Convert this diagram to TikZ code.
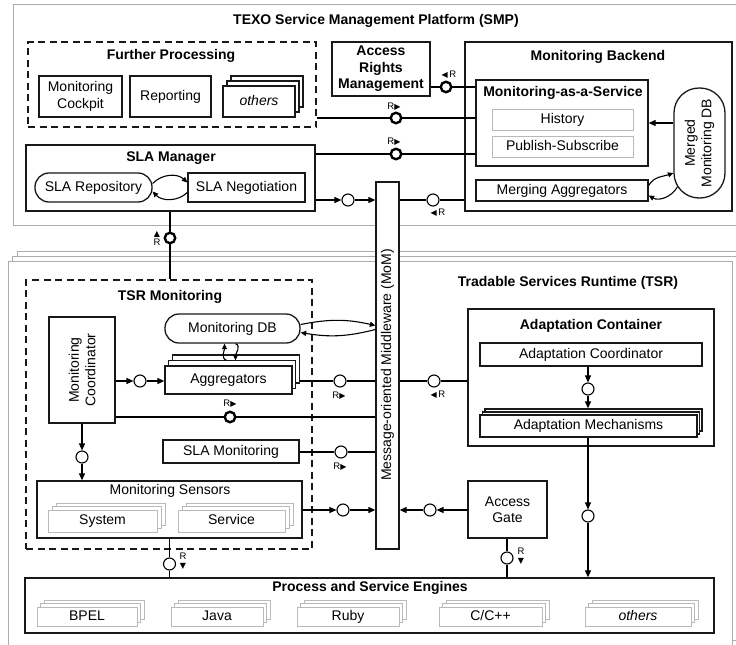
\documentclass[tikz,border=0pt]{standalone}
\usepackage{fontspec}
\setmainfont{Liberation Sans}
\newfontfamily\symf{DejaVu Sans}
\usetikzlibrary{arrows.meta,shadows}
\newcommand\fs{\fontsize{14}{16.5}\selectfont}
\newcommand\rs{\fontsize{9.5}{9}\selectfont}
\newcommand\triR{{\symf\fontsize{8}{8}\selectfont ▶}}
\newcommand\triL{{\symf\fontsize{8}{8}\selectfont ◀}}
\newcommand\triU{{\symf\fontsize{8}{8}\selectfont ▲}}
\newcommand\triD{{\symf\fontsize{8}{8}\selectfont ▼}}
\begin{document}
\begin{tikzpicture}[x=1pt,y=-1pt,
  box/.style={draw=black!90, line width=1.3pt, fill=white, inner sep=0pt, align=center, font=\fs},
  gbox/.style={draw=gray!55, line width=0.9pt, fill=white, inner sep=0pt, align=center, font=\fs},
  tx/.style={text height=10pt, text depth=3pt},
  ttl/.style={font=\fs\bfseries, inner sep=0pt, align=center},
  frame/.style={draw=gray!65, line width=0.9pt},
  dbox/.style={draw=black!90, line width=1.2pt, dash pattern=on 7pt off 4.5pt, inner sep=0pt},
  arr/.style={line width=1.2pt, -{Triangle[length=7pt,width=6pt]}},
  arrs/.style={line width=1.1pt, -{Triangle[length=5.5pt,width=5pt]}},
  ln/.style={line width=1.2pt},
  sock/.style={circle, draw, line width=1.1pt, fill=white, minimum size=12pt, inner sep=0pt},
  bsock/.style={circle, draw, line width=2.4pt, fill=white, minimum size=10.5pt, inner sep=0pt},
  rl/.style={font=\rs, inner sep=0pt, align=center},
  stk/.style={copy shadow={shadow xshift=8pt,shadow yshift=10pt}, copy shadow={shadow xshift=4pt,shadow yshift=5pt}},
  stks/.style={copy shadow={shadow xshift=7pt,shadow yshift=7pt}, copy shadow={shadow xshift=3.5pt,shadow yshift=3.5pt}, tx},
]
\useasboundingbox (0,0) rectangle (736,645);
\clip (0,0) rectangle (736,645);

% ---------- frames ----------
\draw[frame] (13,4) rectangle (745,225);
\draw[frame, fill=white] (17,251) rectangle (745,636);
\draw[frame, fill=white] (12.5,256) rectangle (740,640.5);
\draw[frame, fill=white] (8,261) rectangle (732,660);

\node[ttl] (smpt) at (376,21) {TEXO Service Management Platform (SMP)};
\node[ttl] (tsrt) at (568,283) {Tradable Services Runtime (TSR)};

% ---------- SMP ----------
\node[dbox, minimum width=288pt, minimum height=85pt] (fp) at (172,84.5) {};
\node[ttl] (fpt) at (171,56) {Further Processing};
\node[box, minimum width=83pt, minimum height=41pt] (cockpit) at (80.5,96.5) {Monitoring\\Cockpit};
\node[box, tx, minimum width=81pt, minimum height=41pt] (report) at (170.5,96.5) {Reporting};
\node[box, stk, tx, minimum width=72pt, minimum height=31pt] (oth1) at (259,101.5) {\itshape others};

\node[box, font=\fs\bfseries, minimum width=98pt, minimum height=54pt] (arm) at (381,69) {Access\\Rights\\Management};

\node[box, minimum width=267pt, minimum height=169pt] (mb) at (598.5,126.5) {};
\node[ttl] (mbt) at (598,57) {Monitoring Backend};
\node[box, minimum width=172pt, minimum height=86pt] (maas) at (562,123) {};
\node[ttl] (maast) at (563,93) {Monitoring-as-a-Service};
\node[gbox, tx, minimum width=141pt, minimum height=21pt] (hist) at (562.5,119.5) {History};
\node[gbox, tx, minimum width=141pt, minimum height=21pt] (pubsub) at (562.5,146.5) {Publish-Subscribe};
\node[box, rounded corners=25pt, minimum width=51pt, minimum height=110pt] (mdb) at (699.5,143) {};
\node[rotate=90, font=\fs, align=center, inner sep=0pt] (mdbt) at (mdb) {Merged\\Monitoring DB};
\node[box, tx, minimum width=172pt, minimum height=21pt] (ma) at (562,190.5) {Merging Aggregators};

\node[box, minimum width=289pt, minimum height=66pt] (slam) at (170.5,178) {};
\node[ttl] (slamt) at (171,158) {SLA Manager};
\node[box, tx, rounded corners=14pt, minimum width=117pt, minimum height=29pt] (slarep) at (93.5,187.5) {SLA Repository};
\node[box, tx, minimum width=117pt, minimum height=29pt] (slaneg) at (246.5,187.5) {SLA Negotiation};

% ---------- MoM ----------
\node[box, minimum width=23pt, minimum height=367pt] (mom) at (387.5,365.5) {};
\node[rotate=90, font=\fs, inner sep=0pt] (momt) at (387.5,365) {Message-oriented Middleware (MoM)};

% ---------- TSR Monitoring ----------
\node[dbox, minimum width=286pt, minimum height=269pt] (tsrm) at (169,414.5) {};
\node[ttl] (tsrmt) at (170,297) {TSR Monitoring};
\node[box, minimum width=66pt, minimum height=106pt] (mc) at (82,370) {};
\node[rotate=90, font=\fs, align=center, inner sep=0pt] (mct) at (mc) {Monitoring\\Coordinator};
\node[box, tx, rounded corners=14pt, minimum width=135pt, minimum height=29pt] (mondb) at (232.5,328.5) {Monitoring DB};
\node[box, tx, minimum width=127pt, minimum height=28pt, copy shadow={shadow xshift=7.5pt,shadow yshift=11pt}, copy shadow={shadow xshift=3.7pt,shadow yshift=5.5pt}] (agg) at (228.5,380) {Aggregators};
\node[box, tx, minimum width=136pt, minimum height=23pt] (slamon) at (231,451.5) {SLA Monitoring};
\node[box, minimum width=265pt, minimum height=57pt] (ms) at (169.5,509.5) {};
\node[font=\fs, inner sep=0pt] (mst) at (170,491) {Monitoring Sensors};
\node[gbox, tx, minimum width=109pt, minimum height=22pt, copy shadow={shadow xshift=8pt,shadow yshift=7pt}, copy shadow={shadow xshift=4pt,shadow yshift=3.5pt}] (sys) at (102.5,521) {System};
\node[gbox, tx, minimum width=107pt, minimum height=22pt, copy shadow={shadow xshift=8pt,shadow yshift=7pt}, copy shadow={shadow xshift=4pt,shadow yshift=3.5pt}] (svc) at (231.5,521) {Service};

% ---------- Adaptation ----------
\node[box, minimum width=246pt, minimum height=137pt] (ac) at (591,377.5) {};
\node[ttl] (act) at (591,326) {Adaptation Container};
\node[box, tx, minimum width=222pt, minimum height=23pt] (acoord) at (591,354.5) {Adaptation Coordinator};
\node[box, tx, minimum width=217pt, minimum height=22pt, copy shadow={shadow xshift=5pt,shadow yshift=6pt}, copy shadow={shadow xshift=2.5pt,shadow yshift=3pt}] (amech) at (588.5,426) {Adaptation Mechanisms};
\node[box, minimum width=79pt, minimum height=57pt] (ag) at (507.5,509.5) {Access\\Gate};

% ---------- Engines ----------
\node[box, minimum width=689pt, minimum height=55pt] (pse) at (369.5,605.5) {};
\node[ttl] (pset) at (370,588) {Process and Service Engines};
\node[gbox, stks, minimum width=100pt, minimum height=19pt] (bpel) at (87,616.5) {BPEL};
\node[gbox, stks, minimum width=92pt, minimum height=19pt] (java) at (217,616.5) {Java};
\node[gbox, stks, minimum width=102pt, minimum height=19pt] (ruby) at (348,616.5) {Ruby};
\node[gbox, stks, minimum width=103pt, minimum height=19pt] (cpp) at (490.5,616.5) {C/C++};
\node[gbox, stks, minimum width=106pt, minimum height=19pt] (oth2) at (638,616.5) {\itshape others};

% ---------- sockets ----------
\node[bsock] (cR1) at (396,118) {};
\node[bsock] (cR2) at (446,87) {};
\node[bsock] (cR3) at (396,154) {};
\node[sock] (c4) at (348,200) {};
\node[sock] (c5) at (433,200) {};
\node[bsock] (cR6) at (170,238) {};
\node[sock] (c7) at (140,381) {};
\node[sock] (c8) at (340,381) {};
\node[sock] (c9) at (434,381) {};
\node[bsock] (cR10) at (230,417) {};
\node[sock] (c11) at (82,457) {};
\node[sock] (c12) at (341,452) {};
\node[sock] (c13) at (343,510) {};
\node[sock] (c14) at (430,510) {};
\node[sock] (c15) at (588,389) {};
\node[sock] (c16) at (588,516) {};
\node[sock] (c17) at (169.5,564) {};
\node[sock] (c18) at (507,558) {};

% ---------- labels ----------
\node[rl] (l1) at (394,107) {R\triR};
\node[rl] (l2) at (449,75) {\triL\,R};
\node[rl] (l3) at (394,142) {R\triR};
\node[rl] (l5) at (438,213) {\triL\,R};
\node[rl] (l6) at (157,238) {\triU\\R};
\node[rl] (l8) at (339,396) {R\triR};
\node[rl] (l9) at (438,395) {\triL\,R};
\node[rl] (l10) at (230,404) {R\triR};
\node[rl] (l12) at (340,467) {R\triR};
\node[rl] (l17) at (183,561) {R\\\triD};
\node[rl] (l18) at (521,556) {R\\\triD};

% ---------- connectors ----------
\draw[ln] (fp.east |- cR1) -- (cR1) -- (maas.west |- cR1);
\draw[ln] (arm.east |- cR2) -- (cR2) -- (maas.west |- cR2);
\draw[ln] (slam.east |- cR3) -- (cR3) -- (maas.west |- cR3);
\draw[arr] (slam.east |- c4) -- (c4);
\draw[arr] (c4) -- (mom.west |- c4);
\draw[ln] (mom.east |- c5) -- (c5) -- (mb.west |- c5);
\coordinate (m1) at ([yshift=20pt]mdb.west);
\draw[arr] (m1) -- (m1 -| maas.east);
\draw[arrs] ([yshift=5pt]ma.east) to[out=60,in=200] ([yshift=-30pt]mdb.west);
\draw[arrs] ([xshift=4pt,yshift=-44pt]mdb.west) to[out=240,in=-30] ([yshift=-5pt]ma.east);
\draw[arrs] ([yshift=4pt]slarep.east) to[bend left=45] ([yshift=5pt]slaneg.west);
\draw[arrs] ([yshift=-5pt]slaneg.west) to[bend left=45] ([yshift=-4pt]slarep.east);
\draw[ln] (slam.south -| cR6) -- (cR6) -- (tsrm.north -| cR6);

\draw[arr] (mc.east |- c7) -- (c7);
\draw[arr] (c7) -- (agg.west |- c7);
\coordinate (aggR) at ([xshift=7.5pt]agg.east);
\draw[ln] (aggR |- c8) -- (c8) -- (mom.west |- c8);
\draw[ln] (mom.east |- c9) -- (c9) -- (ac.west |- c9);
\draw[ln] (mc.east |- cR10) -- (cR10) -- (mom.west |- cR10);
\draw[arr] (mc.south -| c11) -- (c11);
\draw[arr] (c11) -- (ms.north -| c11);
\draw[ln] (slamon.east |- c12) -- (c12) -- (mom.west |- c12);
\draw[arr] (ms.east |- c13) -- (c13);
\draw[arr] (c13) -- (mom.west |- c13);
\draw[arr] (ag.west |- c14) -- (c14);
\draw[arr] (c14) -- (mom.east |- c14);
\draw[arr] (acoord.south -| c15) -- (c15);
\coordinate (amT) at ([yshift=6pt]amech.north);
\draw[arr] (c15) -- (amT -| c15);
\draw[arr] (amech.south -| c16) -- (c16);
\draw[arr] (c16) -- (pse.north -| c16);
\draw[ln] (ms.south -| c17) -- (c17) -- (pse.north -| c17);
\draw[ln] (ag.south -| c18) -- (c18) -- (pse.north -| c18);

\draw[arrs] ([xshift=-2pt,yshift=5pt]agg.north) to[out=160,in=-90] ([xshift=-8pt]mondb.south);
\draw[arrs] ([xshift=3pt]mondb.south) to[out=-20,in=90] ([xshift=7pt,yshift=5pt]agg.north);
\draw[arrs] ([yshift=4pt]mondb.east) to[bend left=12] ([yshift=40pt]mom.west);
\draw[arrs] ([yshift=36pt]mom.west) to[bend left=12] ([yshift=-4pt]mondb.east);
\end{tikzpicture}
\end{document}
